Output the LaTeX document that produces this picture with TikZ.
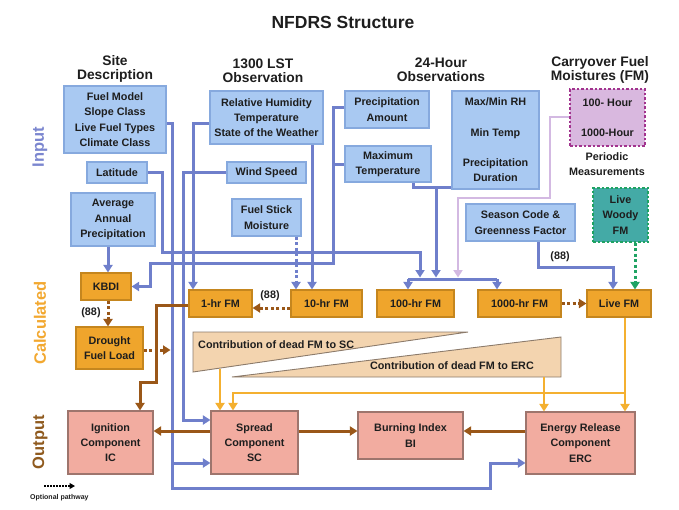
\documentclass[tikz,border=0pt]{standalone}
\usepackage{fontspec}
\setmainfont{Liberation Sans}
\usetikzlibrary{arrows.meta,calc}
\definecolor{bfill}{HTML}{A9C9F2}
\definecolor{bdraw}{HTML}{86A9DE}
\definecolor{bline}{HTML}{6F7FCB}
\definecolor{ofill}{HTML}{EFA52C}
\definecolor{odraw}{HTML}{C5861E}
\definecolor{oline}{HTML}{F4B030}
\definecolor{brn}{HTML}{9A5718}
\definecolor{sfill}{HTML}{F2ACA0}
\definecolor{sdraw}{HTML}{9E756D}
\definecolor{tfill}{HTML}{F3D4AF}
\definecolor{tdraw}{HTML}{8C7B6B}
\definecolor{pfill}{HTML}{D9B8DF}
\definecolor{pdraw}{HTML}{A2338E}
\definecolor{lilac}{HTML}{D3B9E2}
\definecolor{tealf}{HTML}{44AAA6}
\definecolor{gdot}{HTML}{1FA363}
\definecolor{txt}{HTML}{1E1E1E}
\definecolor{inlab}{HTML}{7B86CF}
\definecolor{callab}{HTML}{F2A830}
\definecolor{outlab}{HTML}{8F5A1E}
\newcommand\bxfont{\fontsize{10.8}{15.3}\selectfont\bfseries}
\newcommand\hdfont{\fontsize{13.8}{14}\selectfont\bfseries}
\begin{document}
\begin{tikzpicture}[x=1pt,y=-1pt,
  every node/.style={text=txt, inner sep=0pt, align=center},
  basebox/.style={line width=1.1pt, font=\bxfont},
  inb/.style={basebox, draw=bdraw, fill=bfill},
  calb/.style={basebox, draw=odraw, fill=ofill},
  outb/.style={basebox, draw=sdraw, fill=sfill},
  sz/.style 2 args={minimum width=#1pt, minimum height=#2pt},
  hdr/.style={font=\hdfont},
  arr/.style={-{Triangle[length=7.5pt,width=9pt]}},
  optdash/.style={dash pattern=on 3pt off 2.5pt},
  bl/.style={draw=bline, line width=3pt},
  lil/.style={draw=lilac, line width=2.6pt},
  br/.style={draw=brn, line width=3pt},
  orl/.style={draw=oline, line width=2.6pt},
  grl/.style={draw=gdot, line width=3pt},
  side/.style={rotate=90, font=\fontsize{16.5}{17}\selectfont\bfseries}
]
\useasboundingbox (0,0) rectangle (679,509);

% title and headers
\node[font=\fontsize{17.5}{18}\selectfont\bfseries] (title) at (343,22) {NFDRS Structure};
\node[hdr] (h1) at (115,69) {Site\\Description};
\node[hdr] (h2) at (263,71) {1300 LST\\Observation};
\node[hdr] (h3) at (441,70) {24-Hour\\Observations};
\node[hdr] (h4) at (600,70) {Carryover Fuel\\Moistures (FM)};

% side labels
\node[side, text=inlab] (lin) at (40,147) {Input};
\node[side, text=callab] (lcal) at (40,323) {Calculated};
\node[side, text=outlab] (lout) at (40,442) {Output};

% contribution triangles
\filldraw[fill=tfill, draw=tdraw, line width=0.9pt] (193,332) -- (468,332) -- (193,372) -- cycle;
\filldraw[fill=tfill, draw=tdraw, line width=0.9pt] (232,377) -- (561,337) -- (561,377) -- cycle;
\node[font=\bxfont, anchor=west] (sctxt) at (198,344.5) {Contribution of dead FM to SC};
\node[font=\bxfont, anchor=east] (erctxt) at (534,366) {Contribution of dead FM to ERC};
\coordinate (scT) at (220,368.5);
\coordinate (ercT) at (544,377);

% junction coordinates
\coordinate (j1) at (420,277.5);
\coordinate (j2) at (436,277.5);
\coordinate (j3) at (458,277.5);
\coordinate (barL) at (408,279);
\coordinate (barR) at (497,279);
\coordinate (dfl) at (170.5,350);
\coordinate (lgA) at (44,486);
\coordinate (lgB) at (75,486);

% boxes (input)
\node[inb, sz={102}{67}] (site) at (115,119.5) {Fuel Model\\Slope Class\\Live Fuel Types\\Climate Class};
\node[inb, sz={113}{53}] (rh) at (266.5,117.5) {Relative Humidity\\Temperature\\State of the Weather};
\node[inb, sz={84}{37}] (precip) at (387,109.5) {Precipitation\\Amount};
\node[inb, sz={87}{98}] (maxmin) at (495.5,140) {Max/Min RH\\[15.5pt]Min Temp\\[14.5pt]Precipitation\\Duration};
\node[inb, sz={86}{36}] (maxtemp) at (388,164) {Maximum\\Temperature};
\node[basebox, draw=pdraw, fill=pfill, dash pattern=on 2.5pt off 2pt, sz={75}{57}] (carry) at (607.5,117.5) {100- Hour\\[15pt]1000-Hour};
\node[font=\bxfont] (periodic) at (607,164) {Periodic\\Measurements};
\node[inb, sz={60}{21}] (lat) at (117,172.5) {Latitude};
\node[inb, sz={84}{53}] (avg) at (113,219.5) {Average\\Annual\\Precipitation};
\node[inb, sz={79}{21}] (wind) at (266.5,172.5) {Wind Speed};
\node[inb, sz={69}{37}] (fsm) at (266.5,217.5) {Fuel Stick\\Moisture};
\node[inb, sz={109}{37}] (season) at (520.5,222.5) {Season Code \&\\Greenness Factor};
\node[basebox, draw=gdot, fill=tealf, dash pattern=on 2.5pt off 2pt, sz={55}{54}] (woody) at (620.5,215) {Live\\Woody\\FM};

% calculated
\node[calb, sz={50}{27}] (kbdi) at (106,286.5) {KBDI};
\node[calb, sz={67}{42}] (drought) at (109.5,348) {Drought\\Fuel Load};
\node[calb, sz={63}{27}] (fm1) at (220.5,303.5) {1-hr FM};
\node[calb, sz={71}{27}] (fm10) at (326.5,303.5) {10-hr FM};
\node[calb, sz={77}{27}] (fm100) at (415.5,303.5) {100-hr FM};
\node[calb, sz={83}{27}] (fm1000) at (519.5,303.5) {1000-hr FM};
\node[calb, sz={64}{27}] (live) at (619,303.5) {Live FM};

% output
\node[outb, sz={85}{63}] (ic) at (110.5,442.5) {Ignition\\Component\\IC};
\node[outb, sz={87}{63}] (sc) at (254.5,442.5) {Spread\\Component\\SC};
\node[outb, sz={105}{47}] (bi) at (410.5,435.5) {Burning Index\\BI};
\node[outb, sz={109}{62}] (erc) at (580.5,443) {Energy Release\\Component\\ERC};

% blue connectors
\draw[bl,arr] (site.east |- 0,123) -- (172,123) -- (172,488) -- (490,488) -- (490,463) -- (erc.west |- 0,463);
\draw[bl,arr] (172,463) -- (sc.west |- 0,463);
\draw[bl,arr] (wind.west) -- (183,172.5) -- (183,420) -- (sc.west |- 0,420);
\draw[bl,arr] (rh.west |- 0,123) -- (193,123) -- (fm1.north -| 193,0);
\draw[bl,arr] (rh.south -| 312,0) -- (fm10.north -| 312,0);
\draw[bl,arr] (lat.east) -- (162,172.5) -- (162,252) -- (420,252) -- (j1);
\draw[bl,arr] (precip.west |- 0,107) -- (333,107) -- (333,263) -- (150,263) -- (150,286.5) -- (kbdi.east);
\draw[bl] (maxtemp.west) -- (333,164);
\draw[bl] (maxtemp.south -| 413,0) -- (413,187) -- (maxmin.west |- 0,187);
\draw[bl,arr] (436,187) -- (j2);
\draw[bl] (barL) -- (barR);
\draw[bl,arr] (barL) -- (fm100.north -| barL);
\draw[bl,arr] (barR) -- (fm1000.north -| barR);
\draw[bl,arr] (season.south -| 538,0) -- (538,267) -- (613,267) -- (live.north -| 613,0);
\node[font=\bxfont] (l88a) at (560,257) {(88)};
\draw[bl,arr] (avg.south -| 108,0) -- (kbdi.north -| 108,0);
\draw[bl,optdash,arr] (fsm.south -| 296,0) -- (fm10.north -| 296,0);

% lilac and green
\draw[lil,arr] (carry.west |- 0,117) -- (550,117) -- (550,198) -- (458,198) -- (j3);
\draw[grl,optdash,arr] (woody.south -| 635,0) -- (live.north -| 635,0);

% brown connectors
\draw[br,optdash,arr] (kbdi.south -| 108,0) -- (drought.north -| 108,0);
\node[font=\bxfont] (l88b) at (91,313) {(88)};
\draw[br,optdash,arr] (fm10.west |- 0,308) -- (fm1.east |- 0,308);
\node[font=\bxfont] (l88c) at (270,296) {(88)};
\draw[br,optdash,arr] (fm1000.east) -- (live.west);
\draw[br,optdash,arr] (drought.east |- 0,350) -- (dfl);
\draw[br,arr] (fm1.west |- 0,305) -- (156,305) -- (156,382) -- (140,382) -- (ic.north -| 140,0);
\draw[br,arr] (sc.west |- 0,431) -- (ic.east |- 0,431);
\draw[br,arr] (sc.east |- 0,431) -- (bi.west |- 0,431);
\draw[br,arr] (erc.west |- 0,431) -- (bi.east |- 0,431);

% orange connectors
\draw[orl,arr] (scT) -- (sc.north -| scT);
\draw[orl,arr] (live.south -| 625,0) -- (erc.north -| 625,0);
\draw[orl,arr] (625,393) -- (233,393) -- (sc.north -| 233,0);
\draw[orl,arr] (ercT) -- (erc.north -| ercT);

% legend
\draw[black, line width=1.1pt, dash pattern=on 1.5pt off 1.5pt, -{Triangle[length=5.5pt,width=6pt]}] (lgA) -- (lgB);
\node[font=\fontsize{7}{8}\selectfont\bfseries, anchor=west] (lgtxt) at (30,498) {Optional pathway};
\end{tikzpicture}
\end{document}
